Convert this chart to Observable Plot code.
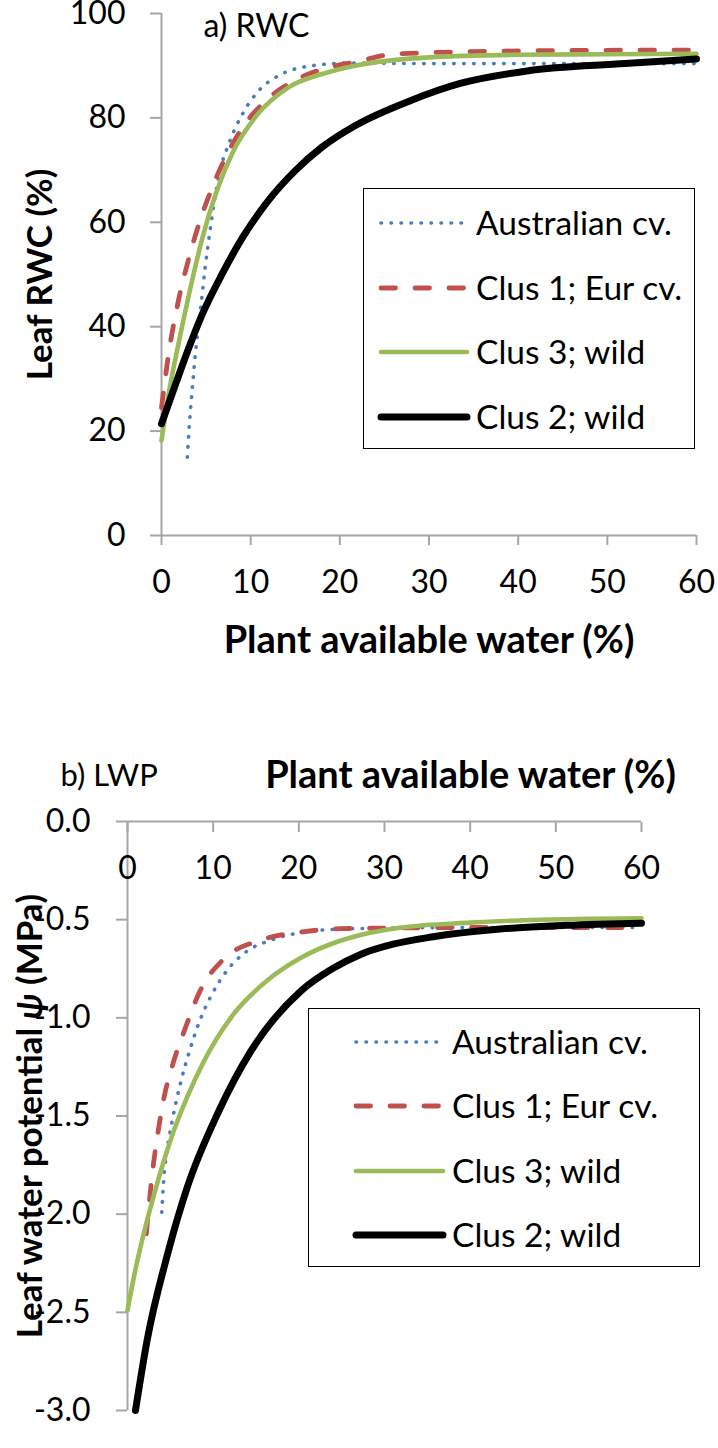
<!DOCTYPE html>
<html><head><meta charset="utf-8">
<script src="https://cdn.jsdelivr.net/npm/d3@7"></script>
<script src="https://cdn.jsdelivr.net/npm/@observablehq/plot@0.6"></script>
<style>
body{margin:0;background:#fff;}
#root{position:relative;width:718px;height:1448px;font-family:Lato,"Open Sans",sans-serif;overflow:hidden;}
.panel{position:absolute;left:0;}
.legend{position:absolute;border:1.6px solid #000;background:#fff;box-sizing:border-box;}
.lrow{position:absolute;left:0;height:40px;}
.lrow svg{position:absolute;top:0;}
.lrow span{position:absolute;top:50%;transform:translateY(-52%);font-size:33.5px;white-space:nowrap;color:#000;}
</style></head><body><div id="root"></div>
<script>
// ---------- data ----------
const xTicks = [0, 10, 20, 30, 40, 50, 60];
const rwcTicks = [0, 20, 40, 60, 80, 100];
const lwpTicks = [0, -0.5, -1, -1.5, -2, -2.5, -3];
const seriesNames = ["Australian cv.", "Clus 1; Eur cv.", "Clus 3; wild", "Clus 2; wild"];

// a) RWC (%) vs plant available water (%)
const rwcAusX   = [2.9, 3.1, 3.4, 3.8, 4.4, 4.9, 5.5, 6.4, 7.7, 9.1, 10.9, 13.5, 16.9, 21, 30, 40, 50, 60];
const rwcAusY   = [15, 20.7, 27.1, 34.8, 43.7, 51.4, 59.1, 68.6, 75.7, 80.8, 85.2, 88.4, 90, 90.5, 90.4, 90.4, 90.4, 90.4];
const rwcClus1X = [0, 0.8, 1.9, 3.1, 4.2, 5.7, 7.2, 9.1, 11.7, 15, 18.8, 21.7, 26, 35, 45, 60];
const rwcClus1Y = [24.5, 34.8, 45, 53.3, 59.7, 66.7, 72.5, 78.2, 83.3, 87.2, 89.7, 90.7, 92.2, 92.7, 92.9, 93];
const rwcClus3X = [0, 0.8, 1.9, 3.1, 4.6, 6.1, 7.9, 10.5, 14.3, 18, 21.7, 30, 40, 50, 60];
const rwcClus3Y = [18.2, 27.1, 36.7, 46.3, 57.1, 65.5, 73.1, 80.1, 85.9, 88.4, 90, 91.6, 92.1, 92.2, 92.3];
const rwcClus2X = [0, 1.6, 3.1, 4.6, 6.8, 9.1, 12, 15, 18, 21.7, 27.9, 33.5, 41, 52, 60];
const rwcClus2Y = [21.4, 29.1, 36.1, 42.5, 50.1, 57.1, 64.2, 69.9, 74.4, 78.5, 83.3, 86.6, 89, 90.4, 91.3];

// b) LWP (MPa) vs plant available water (%)
const lwpAusX   = [4.0, 4.2, 4.6, 5.2, 6.2, 7.2, 8.3, 9.8, 11.6, 13.8, 16.7, 21, 24.9, 30, 40, 50, 60];
const lwpAusY   = [-1.99, -1.84, -1.68, -1.53, -1.33, -1.175, -1.03, -0.885, -0.76, -0.665, -0.605, -0.561, -0.548, -0.543, -0.54, -0.54, -0.54];
const lwpClus1X = [2.2, 2.9, 3.5, 4.2, 5.4, 6.6, 8.5, 11.2, 15.5, 20.6, 24.9, 30, 40, 50, 60];
const lwpClus1Y = [-2.1, -1.79, -1.6, -1.42, -1.22, -1.07, -0.86, -0.702, -0.605, -0.561, -0.546, -0.543, -0.54, -0.54, -0.54];
const lwpClus3X = [0, 0.7, 1.5, 3.1, 5.2, 7, 8.7, 12.4, 16.3, 20.2, 24, 27.2, 32, 40, 47, 60];
const lwpClus3Y = [-2.49, -2.33, -2.17, -1.9, -1.6, -1.4, -1.24, -0.98, -0.81, -0.695, -0.62, -0.578, -0.54, -0.515, -0.502, -0.493];
const lwpClus2X = [0.93, 2.3, 4.7, 7, 10.5, 14.4, 20.2, 24, 27.2, 31, 35.7, 43.5, 51.3, 60];
const lwpClus2Y = [-3.0, -2.64, -2.2, -1.86, -1.49, -1.17, -0.865, -0.748, -0.677, -0.625, -0.587, -0.548, -0.529, -0.518];

// ---------- styles ----------
const FONT = "Lato, 'Open Sans', sans-serif";
const AX = "#a6a6a6";
const lineStyles = {
  "Australian cv.":  {stroke: "#4a7ebb", strokeWidth: 3.6, strokeDasharray: "0.5 9.5", strokeLinecap: "round"},
  "Clus 1; Eur cv.": {stroke: "#c0504d", strokeWidth: 4.8, strokeDasharray: "14.5 19.5", strokeLinecap: "round"},
  "Clus 3; wild":    {stroke: "#9bbb59", strokeWidth: 4.6, strokeLinecap: "round"},
  "Clus 2; wild":    {stroke: "#000000", strokeWidth: 7, strokeLinecap: "round"}
};

function table(xs, ys, name) { return xs.map((x, i) => ({series: name, x, y: ys[i]})); }
const rwcSeries = [
  table(rwcAusX, rwcAusY, seriesNames[0]),
  table(rwcClus1X, rwcClus1Y, seriesNames[1]),
  table(rwcClus3X, rwcClus3Y, seriesNames[2]),
  table(rwcClus2X, rwcClus2Y, seriesNames[3])
];
const lwpSeries = [
  table(lwpAusX, lwpAusY, seriesNames[0]),
  table(lwpClus1X, lwpClus1Y, seriesNames[1]),
  table(lwpClus3X, lwpClus3Y, seriesNames[2]),
  table(lwpClus2X, lwpClus2Y, seriesNames[3])
];
const lineMarks = (sets) => sets.map(d => Plot.line(d, {x: "x", y: "y", curve: "monotone-x", strokeLinejoin: "round", ...lineStyles[d[0].series]}));

const baseStyle = {fontFamily: FONT, fontSize: "32px", color: "#000", background: "transparent", overflow: "visible"};
const TICK_FS = 32, XTITLE_FS = 38, YTITLE_FS = 35;

// ---------- panel a ----------
const plotA = Plot.plot({
  width: 718, height: 680,
  marginTop: 13, marginRight: 22, marginBottom: 145, marginLeft: 161,
  x: {domain: [0, 60]}, y: {domain: [0, 100]},
  style: baseStyle,
  marks: [
    Plot.ruleX([0], {stroke: AX, strokeWidth: 2}),
    Plot.ruleY([0], {stroke: AX, strokeWidth: 2}),
    Plot.axisY({ticks: rwcTicks, tickSize: 11, tickPadding: 25, stroke: AX, strokeWidth: 2, fill: "#000", fontSize: TICK_FS, tickFormat: d3.format("d"), label: null}),
    Plot.axisX({ticks: xTicks, tickSize: 10, stroke: AX, strokeWidth: 2, tickFormat: () => "", label: null}),
    Plot.text(xTicks, {x: d => d, text: d => String(d), frameAnchor: "bottom", dy: 47, lineAnchor: "middle", textAnchor: "middle", fontSize: TICK_FS, fill: "#000"}),
    ...lineMarks(rwcSeries),
    Plot.text(["Plant available water (%)"], {text: d => d, frameAnchor: "bottom", dy: 105, lineAnchor: "middle", textAnchor: "middle", fontWeight: "bold", fontSize: XTITLE_FS, fill: "#000"}),
    Plot.text(["Leaf RWC (%)"], {text: d => d, frameAnchor: "left", dx: -121, rotate: -90, lineAnchor: "middle", textAnchor: "middle", fontWeight: "bold", fontSize: YTITLE_FS, fill: "#000"}),
    Plot.text(["a) RWC"], {text: d => d, frameAnchor: "top-left", dx: 42, dy: 13, lineAnchor: "middle", textAnchor: "start", fontSize: 32, fill: "#000"})
  ]
});

// ---------- panel b ----------
const plotB = Plot.plot({
  width: 718, height: 708,
  marginTop: 81, marginRight: 77, marginBottom: 38, marginLeft: 127,
  x: {domain: [0, 60]}, y: {domain: [-3, 0]},
  style: baseStyle,
  marks: [
    Plot.ruleX([0], {stroke: AX, strokeWidth: 2}),
    Plot.ruleY([0], {stroke: AX, strokeWidth: 2}),
    Plot.axisY({ticks: lwpTicks, tickSize: 11, tickPadding: 26, stroke: AX, strokeWidth: 2, fill: "#000", fontSize: TICK_FS, tickFormat: d => d.toFixed(1), label: null}),
    Plot.axisX({anchor: "top", ticks: xTicks, tickSize: -10, stroke: AX, strokeWidth: 2, tickFormat: () => "", label: null}),
    Plot.text(xTicks, {x: d => d, text: d => String(d), frameAnchor: "top", dy: 47, lineAnchor: "middle", textAnchor: "middle", fontSize: TICK_FS, fill: "#000"}),
    ...lineMarks(lwpSeries),
    Plot.text(["Plant available water (%)"], {text: d => d, frameAnchor: "top", dx: 86, dy: -46, lineAnchor: "middle", textAnchor: "middle", fontWeight: "bold", fontSize: XTITLE_FS, fill: "#000"}),
    Plot.text(["b) LWP"], {text: d => d, frameAnchor: "top-left", dx: -67, dy: -45, lineAnchor: "middle", textAnchor: "start", fontSize: 31, fill: "#000"}),
    Plot.text(["Leaf water potential ψ (MPa)"], {text: d => d, frameAnchor: "left", dx: -97, rotate: -90, lineAnchor: "middle", textAnchor: "middle", fontWeight: "bold", fontSize: YTITLE_FS, fill: "#000"})
  ]
});
// italic psi
plotB.querySelectorAll("text").forEach(t => {
  if (t.textContent.includes("ψ") && t.children.length === 0) {
    const [a, b] = t.textContent.split("ψ");
    t.textContent = "";
    const ns = "http://www.w3.org/2000/svg";
    const t1 = document.createElementNS(ns, "tspan"); t1.textContent = a;
    const t2 = document.createElementNS(ns, "tspan"); t2.textContent = "ψ"; t2.setAttribute("font-style", "italic");
    const t3 = document.createElementNS(ns, "tspan"); t3.textContent = b;
    t.append(t1, t2, t3);
  }
});

const root = document.getElementById("root");
const wrapA = document.createElement("div"); wrapA.className = "panel"; wrapA.style.top = "0px"; wrapA.appendChild(plotA);
const wrapB = document.createElement("div"); wrapB.className = "panel"; wrapB.style.top = "740px"; wrapB.appendChild(plotB);
root.append(wrapA, wrapB);

// ---------- legends ----------
function legend(box) {
  const div = document.createElement("div");
  div.className = "legend";
  Object.assign(div.style, {left: box.left + "px", top: box.top + "px", width: box.width + "px", height: box.height + "px"});
  seriesNames.forEach((name, i) => {
    const row = document.createElement("div");
    row.className = "lrow";
    row.style.top = (box.firstRow + i * box.rowGap - 20) + "px";
    row.style.width = "100%";
    const s = lineStyles[name];
    const svg = d3.create("svg").attr("width", box.lineX1 + 10).attr("height", 40).style("left", "0px");
    svg.append("line").attr("x1", box.lineX0).attr("x2", box.lineX1).attr("y1", 20).attr("y2", 20)
      .attr("stroke", s.stroke).attr("stroke-width", s.strokeWidth)
      .attr("stroke-dasharray", s.strokeDasharray || null).attr("stroke-linecap", s.strokeLinecap);
    row.appendChild(svg.node());
    const span = document.createElement("span");
    span.textContent = name;
    span.style.left = box.textX + "px";
    row.appendChild(span);
    div.appendChild(row);
  });
  root.appendChild(div);
}
legend({left: 363, top: 188, width: 332, height: 261, firstRow: 34, rowGap: 64.7, lineX0: 17, lineX1: 103, textX: 112});
legend({left: 308, top: 1008, width: 392, height: 259, firstRow: 33, rowGap: 64.3, lineX0: 47, lineX1: 134, textX: 143});
</script></body></html>
